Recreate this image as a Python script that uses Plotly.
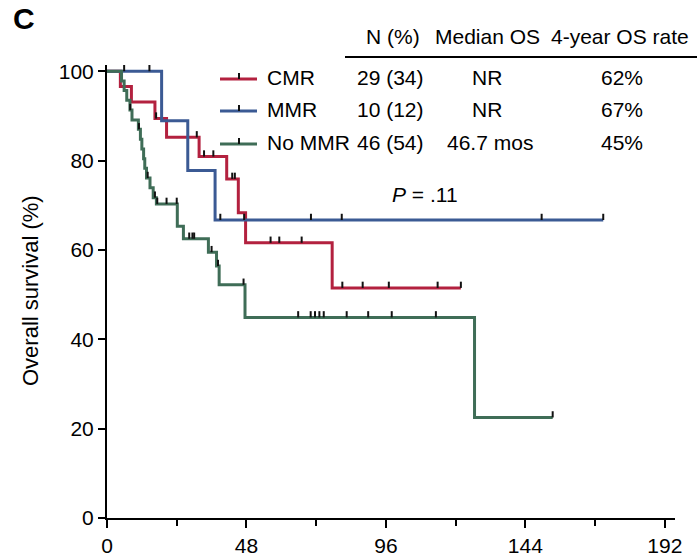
import numpy as np
import plotly.graph_objects as go

# ---------------- data ----------------
groups = ["CMR", "MMR", "No MMR"]

cmr_time = [0, 4.6, 8.4, 16.5, 20.5, 31.7, 41.2, 45.2, 47.7, 77.5, 121.8]
cmr_surv = [100, 96.6, 93.1, 89.4, 85.2, 80.9, 75.9, 68.3, 61.6, 51.5, 51.5]
cmr_censor = [16.9, 30.9, 33.4, 36.6, 43.1, 44.0, 56.3, 59.3, 67.0, 81.0, 88.0, 97.0, 113.8, 121.8]

mmr_time = [0, 18.8, 27.8, 37.2, 170.8]
mmr_surv = [100, 88.9, 77.8, 66.7, 66.7]
mmr_censor = [5.9, 14.6, 39.0, 47.2, 70.2, 80.8, 149.6, 170.8]

nommr_time = [0, 5.0, 5.9, 6.8, 7.9, 8.6, 10.8, 11.5, 12.0, 12.6, 13.0, 13.6, 14.8, 15.9, 17.0,
              24.2, 26.3, 34.9, 37.7, 38.6, 47.5, 126.5, 153.4]
nommr_surv = [100, 97.8, 95.7, 93.5, 91.3, 89.1, 87.0, 84.8, 82.6, 80.4, 78.3, 76.1, 73.9, 71.7, 70.3,
              65.3, 62.5, 59.5, 56.4, 52.2, 44.9, 22.5, 22.5]
nommr_censor = [8.0, 11.0, 14.0, 16.5, 17.3, 20.5, 24.0, 28.3, 29.4, 30.0, 36.0, 38.2, 47.0,
                65.8, 70.1, 71.6, 73.1, 74.6, 82.5, 89.9, 98.0, 113.2, 153.4]

n_pct = ["29 (34)", "10 (12)", "46 (54)"]
median_os = ["NR", "NR", "46.7 mos"]
os4_rate = ["62%", "67%", "45%"]
p_value = ".11"

x_ticks = [0, 48, 96, 144, 192]
y_ticks = [0, 20, 40, 60, 80, 100]

colors = ["#B3213F", "#3B5A94", "#3F6D57"]

series = [
    (cmr_time, cmr_surv, cmr_censor),
    (mmr_time, mmr_surv, mmr_censor),
    (nommr_time, nommr_surv, nommr_censor),
]

FONT = "Liberation Sans, Arial, Helvetica, sans-serif"
FS = 21
W, H = 697, 558
L, R, T, B = 107, 675, 65, 518  # plot area in pixels
X_MAX = 195.5
Y_MAX = 101.4
TICK_H = 1.4

def px(xp):
    return (xp - L) / (R - L)

def py(yp):
    return (B - yp) / (B - T)

fig = go.Figure()

for (t, s, c), col in zip(series, colors):
    fig.add_trace(go.Scatter(x=t, y=s, mode="lines", line=dict(color=col, width=3, shape="hv"),
                             showlegend=False, hoverinfo="skip"))
for (t, s, c), col in zip(series, colors):
    ta = np.array(t)
    sa = np.array(s)
    cx, cy = [], []
    for ct in c:
        idx = np.searchsorted(ta, ct, side="right") - 1
        sv = sa[idx]
        cx += [ct, ct, None]
        cy += [sv, sv + TICK_H, None]
    fig.add_trace(go.Scatter(x=cx, y=cy, mode="lines", line=dict(color="#111111", width=2),
                             showlegend=False, hoverinfo="skip"))

annotations = []
shapes = []

def txt(text, xp, yp, anchor="center", size=FS, angle=0):
    annotations.append(dict(text=text, x=px(xp), y=py(yp), xref="paper", yref="paper",
                            xanchor=anchor, yanchor="middle", showarrow=False, textangle=angle,
                            font=dict(family=FONT, size=size, color="black")))

# panel letter
txt("<b>C</b>", 11, 19, anchor="left", size=30)

# y axis title
txt("Overall survival (%)", 30, 290, size=22, angle=-90)

# table header
for t_, xc in [("N (%)", 393), ("Median OS", 487), ("4-year OS rate", 620)]:
    txt(t_, xc, 37)
shapes.append(dict(type="line", xref="paper", yref="paper", x0=px(345), x1=px(697),
                   y0=py(57), y1=py(57), line=dict(color="black", width=2)))

row_y = [77, 109, 142]
for i, g in enumerate(groups):
    yy = row_y[i]
    shapes.append(dict(type="line", xref="paper", yref="paper", x0=px(220), x1=px(257),
                       y0=py(yy + 2), y1=py(yy + 2), line=dict(color=colors[i], width=3)))
    shapes.append(dict(type="line", xref="paper", yref="paper", x0=px(239), x1=px(239),
                       y0=py(yy + 2), y1=py(yy - 4), line=dict(color="#111111", width=2)))
    txt(g, 265, yy, anchor="left")
    txt(n_pct[i], 390, yy)
    txt(median_os[i], 487 if median_os[i] == "NR" else 490, yy)
    txt(os4_rate[i], 622, yy)

txt("<i>P</i> = " + p_value, 425, 194)

fig.update_layout(
    width=W, height=H,
    margin=dict(l=L, r=W - R, t=T, b=H - B),
    paper_bgcolor="white", plot_bgcolor="white",
    annotations=annotations, shapes=shapes,
    showlegend=False,
    xaxis=dict(range=[0, X_MAX], tickvals=x_ticks, ticktext=[str(v) for v in x_ticks],
               automargin=False,
               showgrid=False, zeroline=False, showline=True, linecolor="black", linewidth=2,
               ticks="outside", ticklen=8, tickwidth=2, tickcolor="black",
               minor=dict(tickvals=[24, 72, 120, 168], ticks="outside", ticklen=6, tickwidth=2,
                          tickcolor="black", showgrid=False),
               tickfont=dict(family=FONT, size=FS, color="black")),
    yaxis=dict(range=[0, Y_MAX], tickvals=y_ticks, ticktext=[str(v) for v in y_ticks],
               automargin=False,
               showgrid=False, zeroline=False, showline=True, linecolor="black", linewidth=2,
               ticks="outside", ticklen=7, tickwidth=2, tickcolor="black",
               tickfont=dict(family=FONT, size=FS, color="black")),
)

fig.write_html("out.html")
